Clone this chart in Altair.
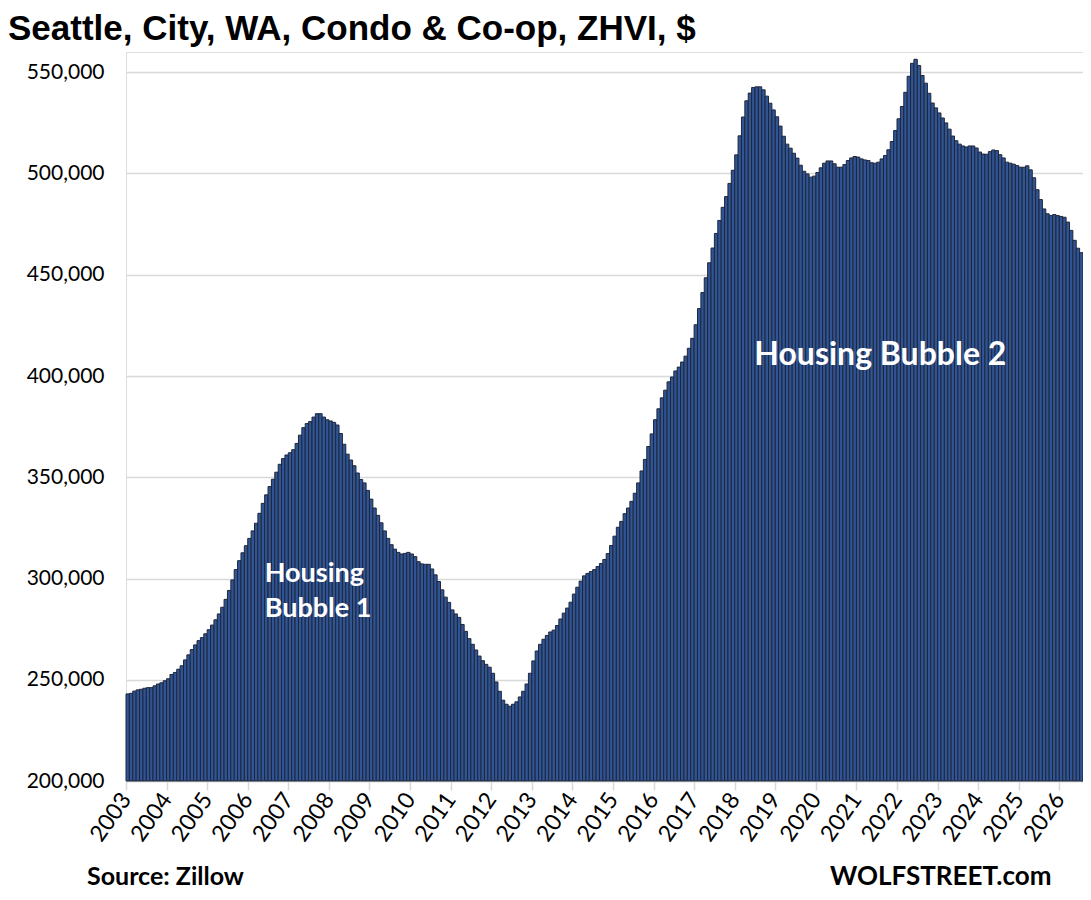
import altair as alt
import pandas as pd

# Monthly ZHVI values (US$)
v2003 = [243000, 243300, 244400, 245000, 245300, 245800, 246100, 246100, 247000, 247900, 248500, 249500]
v2004 = [250500, 252600, 253600, 255200, 256900, 259800, 262300, 264900, 267200, 269300, 270800, 272700]
v2005 = [274700, 277000, 279600, 282500, 285800, 289700, 294100, 299300, 304400, 308800, 312700, 316200]
v2006 = [319800, 323500, 327300, 332200, 337100, 341300, 345400, 349000, 352500, 356400, 359200, 361000]
v2007 = [362100, 363600, 366700, 370800, 374500, 376500, 377500, 379700, 381400, 381400, 379700, 378400]
v2008 = [377800, 377100, 375800, 371600, 366300, 361400, 358500, 355700, 352100, 348900, 347200, 343500]
v2009 = [339200, 334800, 331200, 327500, 323500, 319800, 316700, 314500, 312900, 312100, 312400, 312900]
v2010 = [312100, 310800, 308300, 307200, 307000, 307000, 304700, 301800, 298500, 294400, 290800, 288200]
v2011 = [284500, 282500, 280800, 277300, 273900, 270300, 267500, 264700, 261700, 259400, 257600, 256200]
v2012 = [253200, 248900, 244300, 239900, 237900, 236900, 237900, 239100, 241500, 244300, 247900, 253200]
v2013 = [259300, 264200, 267500, 270000, 271900, 273600, 274500, 276800, 280000, 282900, 285400, 288300]
v2014 = [292300, 295700, 298700, 301300, 302500, 303400, 304400, 305900, 307400, 309400, 312300, 316300]
v2015 = [320900, 325300, 328200, 332000, 334800, 338100, 342100, 347200, 353100, 358800, 365200, 371400]
v2016 = [378400, 383800, 389200, 393000, 397100, 399500, 402500, 404400, 406900, 409800, 413700, 418600]
v2017 = [425300, 433300, 441200, 448500, 455900, 463200, 470400, 476800, 483300, 488600, 495100, 501600]
v2018 = [509200, 518600, 527900, 535900, 539700, 542500, 542800, 542800, 541300, 538200, 534700, 531400]
v2019 = [528000, 523400, 518400, 514500, 512500, 510000, 507600, 504100, 501100, 499800, 498200, 498700]
v2020 = [500500, 502800, 505100, 506200, 506200, 504800, 503100, 503100, 504400, 506400, 507700, 508400]
v2021 = [508100, 507200, 506700, 506400, 505300, 505100, 505600, 507200, 508900, 511700, 515800, 521200]
v2022 = [527000, 533100, 540100, 548000, 554400, 556400, 553300, 548400, 544600, 539600, 534800, 532400]
v2023 = [529900, 527400, 525000, 521900, 518500, 516200, 514500, 513600, 513100, 513600, 513600, 512600]
v2024 = [510600, 509600, 509500, 510800, 511600, 511300, 509300, 507700, 505600, 505100, 504600, 503900]
v2025 = [503100, 503100, 503800, 501800, 497900, 492000, 487100, 482500, 480100, 479200, 479700, 479200]
v2026 = [478800, 478400, 476000, 471900, 467000, 463100, 460900]

years = list(range(2003, 2027))
y_ticks = [200000, 250000, 300000, 350000, 400000, 450000, 500000, 550000]

series = (v2003 + v2004 + v2005 + v2006 + v2007 + v2008 + v2009 + v2010 + v2011 + v2012
          + v2013 + v2014 + v2015 + v2016 + v2017 + v2018 + v2019 + v2020 + v2021 + v2022
          + v2023 + v2024 + v2025 + v2026)
n = len(series)
df = pd.DataFrame({"i": list(range(n)), "value": series})
df["i2"] = df["i"] + 1

FONT = "Lato"
W, H = 957, 729

x_scale = alt.Scale(domain=[0, n], nice=False, zero=False)
y_scale = alt.Scale(domain=[200000, 560000], nice=False, zero=False)

bars = alt.Chart(df).mark_rect(
    fill="#2F5597", stroke="#1F2638", strokeWidth=1
).encode(
    x=alt.X("i:Q", scale=x_scale, title=None,
            axis=alt.Axis(values=[12 * k for k in range(len(years))],
                          labelExpr="toString(2003 + datum.value / 12)",
                          labelAngle=-55, labelAlign="right", labelBaseline="middle",
                          labelFont=FONT, labelFontSize=23, labelColor="#000000",
                          labelPadding=5, labelOverlap=False, labelFlush=False,
                          domainColor="#D9D9D9", domainWidth=1.5,
                          tickColor="#D9D9D9", tickWidth=1.5, tickSize=9,
                          grid=False)),
    x2="i2",
    y=alt.Y("value:Q", scale=y_scale, title=None,
            axis=alt.Axis(values=y_ticks, format=",d",
                          labelFont=FONT, labelFontSize=21, labelColor="#000000",
                          labelPadding=22, ticks=False, domain=False,
                          grid=True, gridColor="#D9D9D9", gridWidth=1.5)),
    y2=alt.datum(200000),
)

ann1 = pd.DataFrame({"i": [41.0, 41.0], "value": [298300, 281000], "t": ["Housing", "Bubble 1"]})
bubble1 = alt.Chart(ann1).mark_text(
    align="left", baseline="alphabetic", font=FONT, fontSize=27, fontWeight="bold", color="white"
).encode(x=alt.X("i:Q", scale=x_scale), y=alt.Y("value:Q", scale=y_scale), text="t:N")

ann2 = pd.DataFrame({"i": [185.8], "value": [405400], "t": ["Housing Bubble 2"]})
bubble2 = alt.Chart(ann2).mark_text(
    align="left", baseline="alphabetic", font=FONT, fontSize=32, fontWeight="bold", color="white"
).encode(x=alt.X("i:Q", scale=x_scale), y=alt.Y("value:Q", scale=y_scale), text="t:N")

title_df = pd.DataFrame({"t": ["Seattle, City, WA, Condo & Co-op, ZHVI, $"]})
title = alt.Chart(title_df).mark_text(
    align="left", baseline="alphabetic", font="Liberation Sans", fontSize=35,
    fontWeight="bold", color="#000000"
).encode(x=alt.value(-118), y=alt.value(-12), text="t:N")

src_df = pd.DataFrame({"t": ["Source: Zillow"]})
source = alt.Chart(src_df).mark_text(
    align="left", baseline="alphabetic", font=FONT, fontSize=25, fontWeight="bold", color="#000000"
).encode(x=alt.value(-39), y=alt.value(833), text="t:N")

wolf_df = pd.DataFrame({"t": ["WOLFSTREET.com"]})
wolf = alt.Chart(wolf_df).mark_text(
    align="left", baseline="alphabetic", font=FONT, fontSize=26, fontWeight="bold", color="#000000"
).encode(x=alt.value(704), y=alt.value(833), text="t:N")

chart = alt.layer(bars, bubble1, bubble2, title, source, wolf).properties(
    width=W, height=H,
    autosize=alt.AutoSizeParams(type="none"),
    padding={"left": 118, "top": 44, "right": 0, "bottom": 110},
).configure_view(stroke=None).configure(background="white")

chart.save("out.html", embed_options={"renderer": "svg", "actions": False})
